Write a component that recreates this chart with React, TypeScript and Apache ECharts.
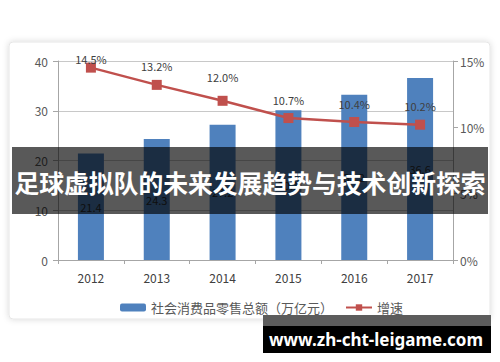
import React, { useEffect, useRef } from "react";
import * as echarts from "echarts";

const categories = ["2012", "2013", "2014", "2015", "2016", "2017"];
const salesValues = [21.4, 24.3, 27.2, 30.1, 33.2, 36.6];
const growthValues = [14.5, 13.2, 12.0, 10.7, 10.4, 10.2];
const barName = "社会消费品零售总额（万亿元）";
const lineName = "增速";
const titleText = "足球虚拟队的未来发展趋势与技术创新探索";
const watermarkText = "www.zh-cht-leigame.com";

const CJK = '"Noto Sans CJK SC", "Noto Sans", sans-serif';

export default function App() {
  const ref = useRef<HTMLDivElement>(null);
  useEffect(() => {
    if (!ref.current) return;
    const chart = echarts.init(ref.current, undefined, { renderer: "svg" });
    chart.setOption({
      animation: false,
      backgroundColor: "#ffffff",
      textStyle: { fontFamily: CJK },
      grid: { left: 58, right: 47, top: 61, bottom: 102 },
      legend: {
        left: 115,
        top: 296,
        itemWidth: 26,
        itemHeight: 8,
        itemGap: 12,
        textStyle: { color: "#595959", fontSize: 13, fontFamily: CJK },
        data: [barName, lineName],
      },
      xAxis: {
        type: "category",
        data: categories,
        boundaryGap: true,
        axisLine: { lineStyle: { color: "#a6a6a6" } },
        axisTick: { show: true, length: 4, lineStyle: { color: "#a6a6a6" } },
        axisLabel: { color: "#404040", fontSize: 12, margin: 11 },
      },
      yAxis: [
        {
          type: "value",
          min: 0,
          max: 40,
          interval: 10,
          axisLine: { show: true, lineStyle: { color: "#a6a6a6" } },
          axisTick: { show: true, length: 5, lineStyle: { color: "#a6a6a6" } },
          axisLabel: { color: "#595959", fontSize: 12, margin: 10 },
          splitLine: { show: true, lineStyle: { color: "#c8c8c8" } },
        },
        {
          type: "value",
          min: 0,
          max: 15,
          interval: 5,
          position: "right",
          axisLine: { show: true, lineStyle: { color: "#a6a6a6" } },
          axisTick: { show: true, length: 5, lineStyle: { color: "#a6a6a6" } },
          axisLabel: { color: "#595959", fontSize: 12, margin: 7, formatter: "{value}%" },
          splitLine: { show: false },
        },
      ],
      series: [
        {
          name: barName,
          type: "bar",
          data: salesValues,
          barWidth: 26,
          itemStyle: { color: "#4f81bd" },
          label: {
            show: true,
            position: "inside",
            color: "#2a2a2a",
            fontSize: 11,
          },
          z: 2,
        },
        {
          name: lineName,
          type: "line",
          yAxisIndex: 1,
          data: growthValues.map((v, i) =>
            i === 0
              ? { value: v, label: { offset: [0, 10] } }
              : i === 2
              ? { value: v, label: { offset: [0, -5] } }
              : v
          ),
          symbol: "rect",
          symbolSize: 10,
          lineStyle: { color: "#c0504d", width: 2.5 },
          itemStyle: { color: "#c0504d" },
          label: {
            show: true,
            position: "top",
            distance: 8,
            color: "#404040",
            fontSize: 11,
            formatter: (p: any) => Number(p.value).toFixed(1) + "%",
          },
          z: 3,
        },
      ],
      graphic: [
        {
          type: "rect",
          z: -10,
          shape: { x: 9, y: 42, width: 481, height: 277, r: 4 },
          style: {
            fill: "#ffffff",
            stroke: "#e6e6e6",
            lineWidth: 1,
            shadowBlur: 6,
            shadowColor: "rgba(0,0,0,0.15)",
          },
        },
        {
          type: "rect",
          z: 100,
          shape: { x: 12, y: 147, width: 476, height: 67 },
          style: { fill: "rgba(0,0,0,0.65)" },
        },
        {
          type: "text",
          z: 101,
          x: 250,
          y: 182,
          style: {
            text: titleText,
            fill: "#ffffff",
            font: 'bold 24.8px "Noto Sans CJK SC", sans-serif',
            textAlign: "center",
            textVerticalAlign: "middle",
          },
        },
        {
          type: "rect",
          z: 100,
          shape: { x: 263, y: 315, width: 228, height: 11 },
          style: { fill: "#5c5c5c" },
        },
        {
          type: "rect",
          z: 100,
          shape: { x: 263, y: 326, width: 228, height: 27 },
          style: { fill: "#000000" },
        },
        {
          type: "text",
          z: 101,
          x: 376,
          y: 339,
          style: {
            text: watermarkText,
            fill: "#ffffff",
            font: 'bold 17px "Noto Sans", sans-serif',
            textAlign: "center",
            textVerticalAlign: "middle",
          },
        },
      ],
    });
    return () => chart.dispose();
  }, []);
  return (
    <div
      ref={ref}
      style={{ position: "fixed", left: 0, top: 0, width: 500, height: 362 }}
    />
  );
}
